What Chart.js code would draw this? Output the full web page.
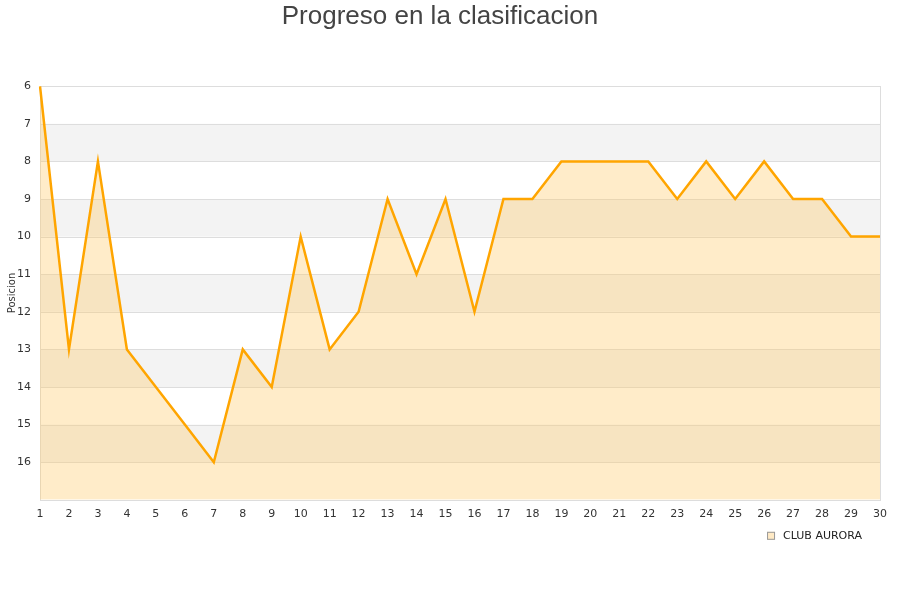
<!DOCTYPE html>
<html>
<head>
<meta charset="utf-8">
<script src="https://cdn.jsdelivr.net/npm/chart.js@4"></script>
<style>
  body { margin: 0; background: #fff; }
  #wrap { width: 900px; height: 600px; }
</style>
</head>
<body>
<div id="wrap"><canvas id="chart" width="900" height="600"></canvas></div>
<script>
const jornadas = ['1','2','3','4','5','6','7','8','9','10','11','12','13','14','15','16','17','18','19','20','21','22','23','24','25','26','27','28','29','30'];
const posiciones = [6, 13, 8, 13, 14, 15, 16, 13, 14, 10, 13, 12, 9, 11, 9, 12, 9, 9, 8, 8, 8, 8, 9, 8, 9, 8, 9, 9, 10, 10];
const equipo = 'CLUB AURORA';
const bandas = [[7, 8], [9, 10], [11, 12], [13, 14], [15, 16]];

// bandas grises alternas + borde del area + leyenda
const fondo = {
  id: 'fondo',
  beforeDatasetsDraw(chart) {
    const { ctx, chartArea: a, scales: { y } } = chart;
    ctx.save();
    ctx.fillStyle = '#f3f3f3';
    bandas.forEach(([v0, v1]) => {
      const p0 = y.getPixelForValue(v0), p1 = y.getPixelForValue(v1);
      ctx.fillRect(a.left, p0, a.right - a.left, p1 - p0);
    });
    ctx.strokeStyle = '#dddddd';
    ctx.lineWidth = 1;
    for (let v = 7; v < 17; v++) {
      const p = Math.round(y.getPixelForValue(v)) + 0.5;
      ctx.beginPath(); ctx.moveTo(a.left, p); ctx.lineTo(a.right, p); ctx.stroke();
    }
    ctx.strokeRect(Math.round(a.left) + 0.5, Math.round(a.top) + 0.5, Math.round(a.right - a.left), Math.round(a.bottom - a.top));
    ctx.restore();
  },
  afterDraw(chart) {
    const { ctx, chartArea: a } = chart;
    const ty = a.bottom + 36;
    ctx.save();
    ctx.font = '11px "DejaVu Sans"';
    ctx.textBaseline = 'middle';
    ctx.textAlign = 'right';
    ctx.fillStyle = '#222';
    ctx.fillText(equipo, a.right - 18, ty);
    const tw = ctx.measureText(equipo).width;
    const bx = a.right - 18 - tw - 16;
    ctx.fillStyle = '#ffeac5';
    ctx.fillRect(bx, ty - 4, 8, 8);
    ctx.strokeStyle = '#999';
    ctx.lineWidth = 1;
    ctx.strokeRect(bx + 0.5, ty - 3.5, 7, 7);
    ctx.restore();
  }
};

new Chart(document.getElementById('chart'), {
  type: 'line',
  data: {
    labels: jornadas,
    datasets: [{
      label: equipo,
      data: posiciones,
      borderColor: '#ffa500',
      borderWidth: 2.5,
      backgroundColor: 'rgba(255,200,100,0.35)',
      fill: { value: 17 },
      pointRadius: 0,
      tension: 0
    }]
  },
  options: {
    responsive: false,
    animation: false,
    layout: { padding: { left: 0, right: 20, top: 0, bottom: 71 } },
    plugins: {
      title: {
        display: true,
        text: 'Progreso en la clasificacion',
        color: '#444',
        font: { family: 'Liberation Sans', size: 26, weight: 'normal' },
        padding: { top: 1, bottom: 54 }
      },
      legend: { display: false },
      tooltip: { enabled: false }
    },
    scales: {
      x: {
        offset: false,
        grid: { display: false, drawTicks: false },
        border: { display: false },
        ticks: { color: '#333', font: { family: 'DejaVu Sans', size: 11 }, maxRotation: 0, autoSkip: false, padding: 8 }
      },
      y: {
        reverse: true,
        min: 6,
        max: 17,
        grid: { display: false, drawTicks: false },
        border: { display: false },
        afterFit(s) { s.width = 40; },
        title: { display: true, text: 'Posicion', color: '#333', font: { family: 'DejaVu Sans', size: 10 }, padding: { top: 6, bottom: 0 } },
        ticks: {
          stepSize: 1,
          color: '#333',
          font: { family: 'DejaVu Sans', size: 11 },
          padding: 9,
          callback: v => v === 17 ? '' : v
        }
      }
    }
  },
  plugins: [fondo]
});
</script>
</body>
</html>
